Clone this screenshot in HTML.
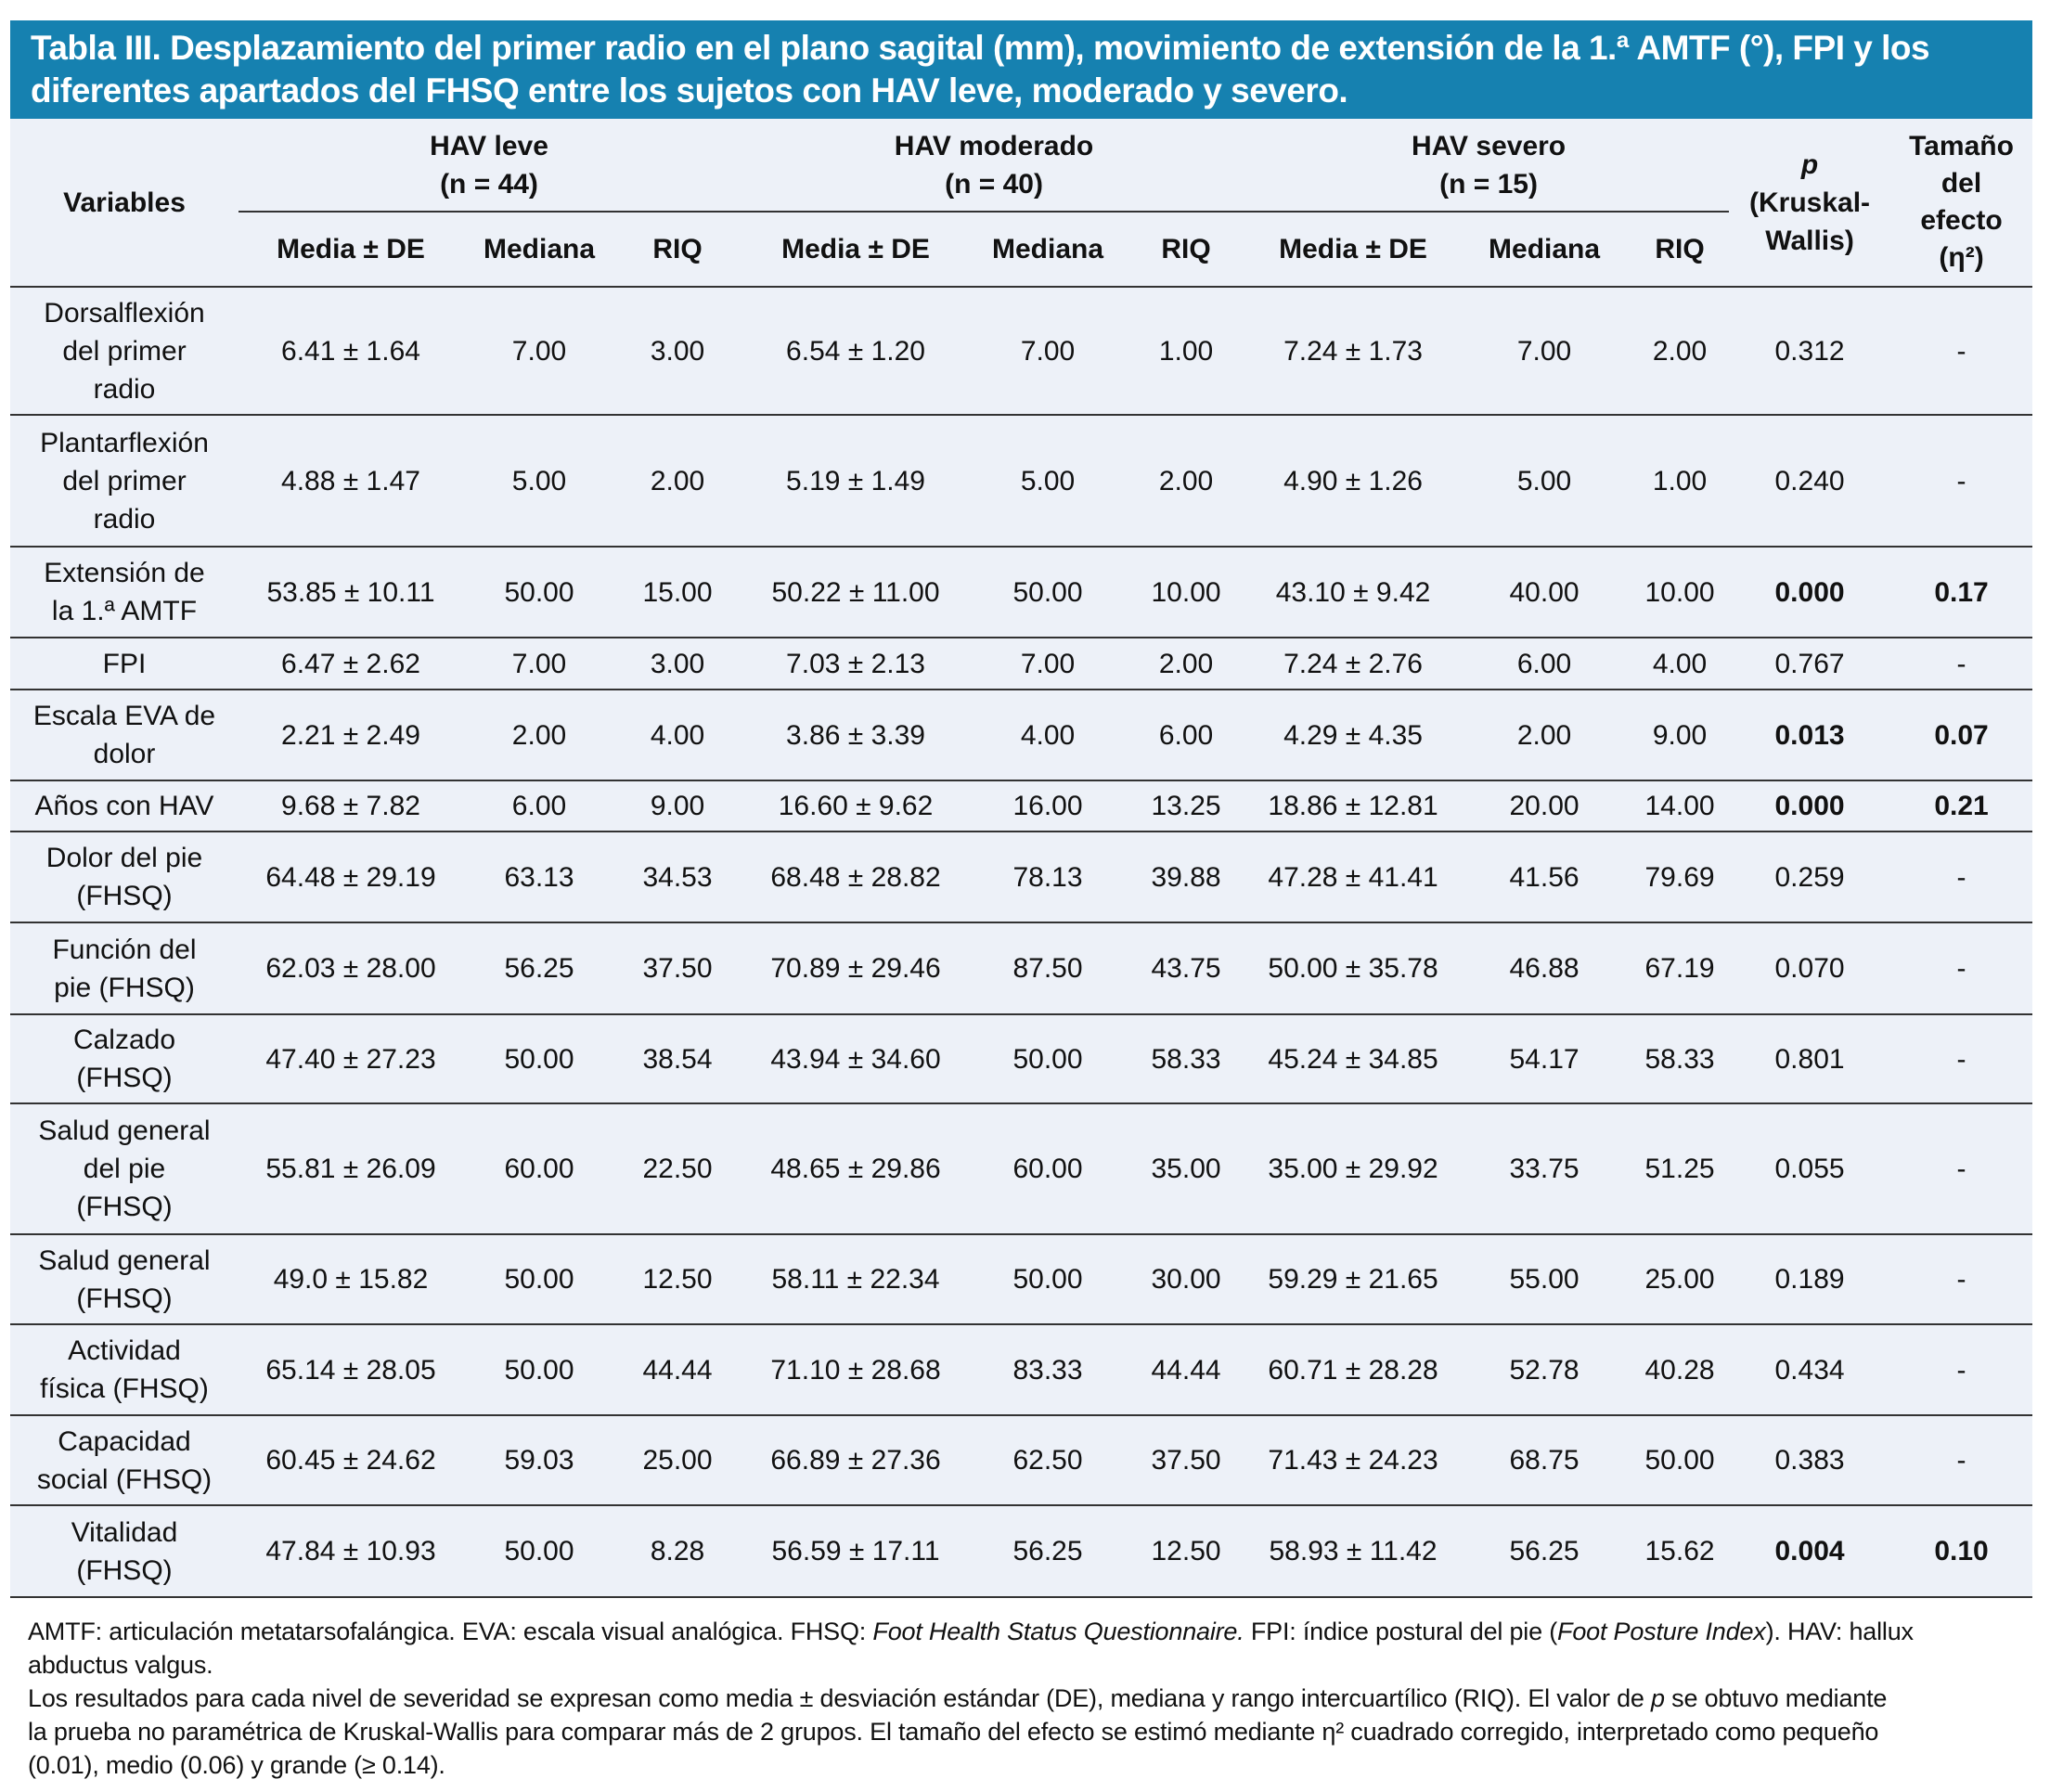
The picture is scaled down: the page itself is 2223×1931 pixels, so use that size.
<!DOCTYPE html>
<html><head><meta charset="utf-8"><style>
body{margin:0;width:2223px;height:1931px;background:#fff;position:relative;overflow:hidden;font-family:"Liberation Sans",sans-serif;color:#111}
.band{position:absolute;left:11px;top:22px;width:2179px;height:106px;background:#1681b0;color:#fff;font-weight:bold;font-size:37px;line-height:46px;padding:7px 0 0 22px;box-sizing:border-box;letter-spacing:-0.5px;white-space:nowrap}
table{position:absolute;left:11px;top:128px;width:2179px;border-collapse:collapse;table-layout:fixed;background:#edf1f8;font-size:30px;line-height:41px}
td{text-align:center;vertical-align:middle;padding:0;white-space:nowrap;border-bottom:2px solid #333}
th{font-weight:bold;text-align:center;vertical-align:middle;padding:0;white-space:nowrap}
.g{border-bottom:2px solid #333}
.hb th{border-bottom:2px solid #333}
b{font-weight:bold}
.fn{position:absolute;left:30px;top:1740px;font-size:27px;line-height:36px;white-space:nowrap;letter-spacing:-0.2px}
</style></head><body>
<div class="band">Tabla III. Desplazamiento del primer radio en el plano sagital (mm), movimiento de extensión de la 1.ª AMTF (°), FPI y los<br>diferentes apartados del FHSQ entre los sujetos con HAV leve, moderado y severo.</div>
<table>
<colgroup><col style="width:246px"><col style="width:242px"><col style="width:164px"><col style="width:134px"><col style="width:250px"><col style="width:164px"><col style="width:134px"><col style="width:226px"><col style="width:186px"><col style="width:106px"><col style="width:174px"><col style="width:153px"></colgroup>
<tr style="height:100px"><th rowspan="2" style="border-bottom:2px solid #333">Variables</th><th colspan="3" class="g">HAV leve<br>(n = 44)</th><th colspan="3" class="g">HAV moderado<br>(n = 40)</th><th colspan="3" class="g">HAV severo<br>(n = 15)</th><th rowspan="2" style="border-bottom:2px solid #333"><i>p</i><br>(Kruskal-<br>Wallis)</th><th rowspan="2" style="border-bottom:2px solid #333;line-height:40px">Tamaño<br>del<br>efecto<br>(η²)</th></tr>
<tr style="height:81px" class="hb"><th>Media ± DE</th><th>Mediana</th><th>RIQ</th><th>Media ± DE</th><th>Mediana</th><th>RIQ</th><th>Media ± DE</th><th>Mediana</th><th>RIQ</th></tr>
<tr style="height:138px"><td>Dorsalflexión<br>del primer<br>radio</td><td>6.41 ± 1.64</td><td>7.00</td><td>3.00</td><td>6.54 ± 1.20</td><td>7.00</td><td>1.00</td><td>7.24 ± 1.73</td><td>7.00</td><td>2.00</td><td>0.312</td><td>-</td></tr>
<tr style="height:142px"><td>Plantarflexión<br>del primer<br>radio</td><td>4.88 ± 1.47</td><td>5.00</td><td>2.00</td><td>5.19 ± 1.49</td><td>5.00</td><td>2.00</td><td>4.90 ± 1.26</td><td>5.00</td><td>1.00</td><td>0.240</td><td>-</td></tr>
<tr style="height:98px"><td>Extensión de<br>la 1.ª AMTF</td><td>53.85 ± 10.11</td><td>50.00</td><td>15.00</td><td>50.22 ± 11.00</td><td>50.00</td><td>10.00</td><td>43.10 ± 9.42</td><td>40.00</td><td>10.00</td><td><b>0.000</b></td><td><b>0.17</b></td></tr>
<tr style="height:56px"><td>FPI</td><td>6.47 ± 2.62</td><td>7.00</td><td>3.00</td><td>7.03 ± 2.13</td><td>7.00</td><td>2.00</td><td>7.24 ± 2.76</td><td>6.00</td><td>4.00</td><td>0.767</td><td>-</td></tr>
<tr style="height:98px"><td>Escala EVA de<br>dolor</td><td>2.21 ± 2.49</td><td>2.00</td><td>4.00</td><td>3.86 ± 3.39</td><td>4.00</td><td>6.00</td><td>4.29 ± 4.35</td><td>2.00</td><td>9.00</td><td><b>0.013</b></td><td><b>0.07</b></td></tr>
<tr style="height:55px"><td>Años con HAV</td><td>9.68 ± 7.82</td><td>6.00</td><td>9.00</td><td>16.60 ± 9.62</td><td>16.00</td><td>13.25</td><td>18.86 ± 12.81</td><td>20.00</td><td>14.00</td><td><b>0.000</b></td><td><b>0.21</b></td></tr>
<tr style="height:98px"><td>Dolor del pie<br>(FHSQ)</td><td>64.48 ± 29.19</td><td>63.13</td><td>34.53</td><td>68.48 ± 28.82</td><td>78.13</td><td>39.88</td><td>47.28 ± 41.41</td><td>41.56</td><td>79.69</td><td>0.259</td><td>-</td></tr>
<tr style="height:99px"><td>Función del<br>pie (FHSQ)</td><td>62.03 ± 28.00</td><td>56.25</td><td>37.50</td><td>70.89 ± 29.46</td><td>87.50</td><td>43.75</td><td>50.00 ± 35.78</td><td>46.88</td><td>67.19</td><td>0.070</td><td>-</td></tr>
<tr style="height:96px"><td>Calzado<br>(FHSQ)</td><td>47.40 ± 27.23</td><td>50.00</td><td>38.54</td><td>43.94 ± 34.60</td><td>50.00</td><td>58.33</td><td>45.24 ± 34.85</td><td>54.17</td><td>58.33</td><td>0.801</td><td>-</td></tr>
<tr style="height:141px"><td>Salud general<br>del pie<br>(FHSQ)</td><td>55.81 ± 26.09</td><td>60.00</td><td>22.50</td><td>48.65 ± 29.86</td><td>60.00</td><td>35.00</td><td>35.00 ± 29.92</td><td>33.75</td><td>51.25</td><td>0.055</td><td>-</td></tr>
<tr style="height:97px"><td>Salud general<br>(FHSQ)</td><td>49.0 ± 15.82</td><td>50.00</td><td>12.50</td><td>58.11 ± 22.34</td><td>50.00</td><td>30.00</td><td>59.29 ± 21.65</td><td>55.00</td><td>25.00</td><td>0.189</td><td>-</td></tr>
<tr style="height:98px"><td>Actividad<br>física (FHSQ)</td><td>65.14 ± 28.05</td><td>50.00</td><td>44.44</td><td>71.10 ± 28.68</td><td>83.33</td><td>44.44</td><td>60.71 ± 28.28</td><td>52.78</td><td>40.28</td><td>0.434</td><td>-</td></tr>
<tr style="height:97px"><td>Capacidad<br>social (FHSQ)</td><td>60.45 ± 24.62</td><td>59.03</td><td>25.00</td><td>66.89 ± 27.36</td><td>62.50</td><td>37.50</td><td>71.43 ± 24.23</td><td>68.75</td><td>50.00</td><td>0.383</td><td>-</td></tr>
<tr style="height:99px"><td>Vitalidad<br>(FHSQ)</td><td>47.84 ± 10.93</td><td>50.00</td><td>8.28</td><td>56.59 ± 17.11</td><td>56.25</td><td>12.50</td><td>58.93 ± 11.42</td><td>56.25</td><td>15.62</td><td><b>0.004</b></td><td><b>0.10</b></td></tr>
</table>
<div class="fn">AMTF: articulación metatarsofalángica. EVA: escala visual analógica. FHSQ: <i>Foot Health Status Questionnaire.</i> FPI: índice postural del pie (<i>Foot Posture Index</i>). HAV: hallux<br>abductus valgus.<br>Los resultados para cada nivel de severidad se expresan como media ± desviación estándar (DE), mediana y rango intercuartílico (RIQ). El valor de <i>p</i> se obtuvo mediante<br>la prueba no paramétrica de Kruskal-Wallis para comparar más de 2 grupos. El tamaño del efecto se estimó mediante η² cuadrado corregido, interpretado como pequeño<br>(0.01), medio (0.06) y grande (≥ 0.14).</div>
</body></html>
